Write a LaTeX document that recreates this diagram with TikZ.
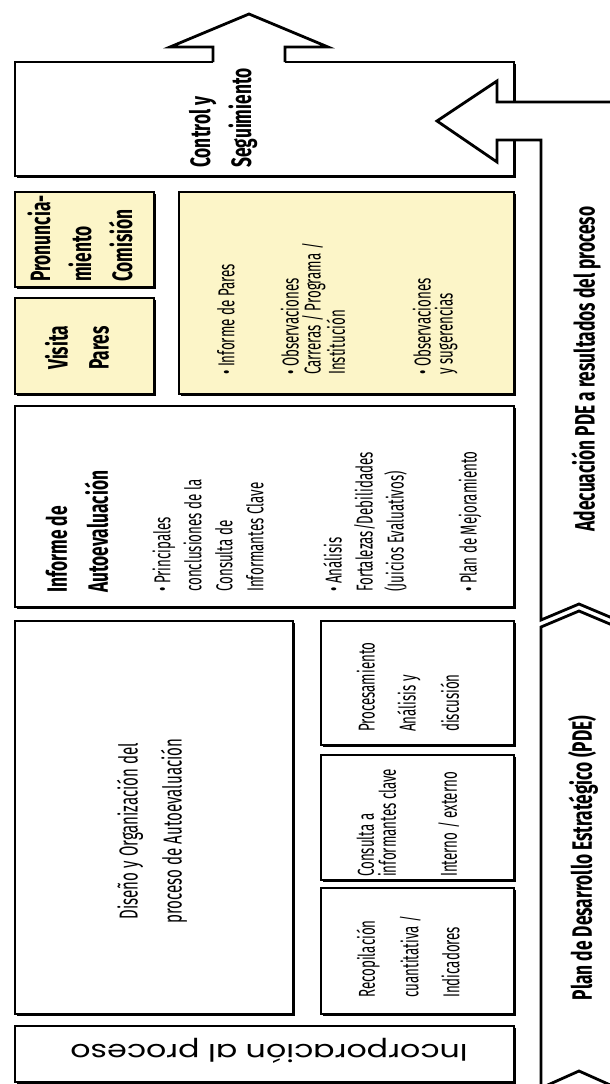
\documentclass[tikz,border=0pt]{standalone}
\usepackage{fontspec}
\usetikzlibrary{shadows}

\newfontfamily\condfont{Fira Sans}[FakeStretch=0.62]
\newfontfamily\itemfont{Fira Sans}[FakeStretch=0.58]
\newfontfamily\roundfont{Poppins}[FakeStretch=1.32]
\definecolor{paleyellow}{RGB}{252,245,200}

\begin{document}
\begin{tikzpicture}[x=1pt, y=-1pt]

	\tikzstyle{box_white} = [draw=black, line width=2.6pt, fill=white, inner sep=0pt, drop shadow={shadow xshift=2.4pt, shadow yshift=-2.4pt, opacity=1, fill=black}]
	\tikzstyle{box_yellow} = [box_white, fill=paleyellow]
	\tikzstyle{band} = [draw=black, line width=2.8pt, fill=white, line join=miter]
	\tikzstyle{text_bold} = [rotate=90, inner sep=0pt, align=left, font=\condfont\bfseries\fontsize{28}{41}\selectfont]
	\tikzstyle{text_item} = [rotate=90, inner sep=0pt, align=left, font=\itemfont\fontsize{23}{22}\selectfont]
	\tikzstyle{text_wide} = [text_item, font=\itemfont\fontsize{23}{31}\selectfont]

	\useasboundingbox (0,0) rectangle (610,1084);

%------------------------------------------------------------
	\node[box_white, minimum width=499pt, minimum height=114pt] (ctrl) at (264.5,119) {};

	\fill[white] (213,47) rectangle (285,64);
	\draw[band, fill=none] (213,62) -- (213,47) -- (170,47) -- (249,14) -- (328,47) -- (285,47) -- (285,62);

	\filldraw[band] (437,121) -- (497,81) -- (497,102) -- (617,102) -- (617,620) -- (579,604)
		-- (541,620) -- (541,140) -- (497,140) -- (497,162) -- cycle;
	\filldraw[band] (541,627) -- (579,611) -- (617,627) -- (617,1088) -- (579,1071) -- (541,1088) -- cycle;

%------------------------------------------------------------
	\node[box_yellow, minimum width=139pt, minimum height=95pt] (pron) at (84.5,239.5) {};
	\node[box_yellow, minimum width=139pt, minimum height=96pt] (visita) at (84.5,346) {};
	\node[box_yellow, minimum width=335pt, minimum height=202pt] (pares) at (346.5,293) {};

%------------------------------------------------------------
	\node[box_white, minimum width=499pt, minimum height=201pt] (inf) at (264.5,506.5) {};

%------------------------------------------------------------
	\node[box_white, minimum width=278pt, minimum height=393pt] (dis) at (154,817.5) {};
	\node[box_white, minimum width=193pt, minimum height=124pt] (proc) at (417.5,683) {};
	\node[box_white, minimum width=193pt, minimum height=125pt] (cons) at (417.5,817.5) {};
	\node[box_white, minimum width=193pt, minimum height=126pt] (recop) at (417.5,951) {};

%------------------------------------------------------------
	\node[box_white, minimum width=499pt, minimum height=56pt] (incorp) at (264.5,1054) {};

%------------------------------------------------------------
	\node[text_bold, anchor=west] (ctrl_txt) at (223,168) {Control y\\Seguimiento};
	\node[text_bold, anchor=west] (pron_txt) at (80,282) {Pronuncia-\\miento\\Comisión};
	\node[text_bold, anchor=west] (visita_txt) at (77,370) {Visita\\Pares};
	\node[text_bold, anchor=west] (inf_txt) at (77,593) {Informe de\\Autoevaluación};
	\node[text_bold] (adec_txt) at (586,369) {Adecuación PDE a resultados del proceso};
	\node[text_bold] (pde_txt) at (583,858) {Plan de Desarrollo Estratégico (PDE)};

	\node[text_item, anchor=west] (pares_1) at (226,375) {• Informe de Pares};
	\node[text_item, anchor=west] (pares_2) at (313,375) {• Observaciones\\Carreras / Programa /\\Institución};
	\node[text_item, anchor=west] (pares_3) at (435,375) {• Observaciones\\y sugerencias};

	\node[text_wide, anchor=west] (inf_1) at (208,592) {• Principales\\conclusiones de la\\Consulta de\\Informantes Clave};
	\node[text_wide, anchor=west] (inf_2) at (365,592) {• Análisis\\Fortalezas/Debilidades\\(Juicios Evaluativos)};
	\node[text_wide, anchor=west] (inf_3) at (470,592) {• Plan de Mejoramiento};

	\node[text_item, align=center, font=\itemfont\fontsize{26}{44}\selectfont] (dis_txt) at (152,831) {Diseño y Organización del\\proceso de Autoevaluación};

	\node[text_item, anchor=west] (proc_txt) at (408,732) {Procesamiento\\[19pt]Análisis y\\[19pt]discusión};
	\node[text_item, anchor=west] (cons_txt) at (408,877) {Consulta a\\informantes clave\\[39pt]Interno / externo};
	\node[text_item, anchor=west] (recop_txt) at (408,998) {Recopilación\\[19pt]cuantitativa /\\[19pt]Indicadores};

	\node[rotate=180, inner sep=0pt, font=\roundfont\fontsize{24}{26}\selectfont] (incorp_txt) at (269,1051) {Incorporación al proceso};

\end{tikzpicture}
\end{document}
